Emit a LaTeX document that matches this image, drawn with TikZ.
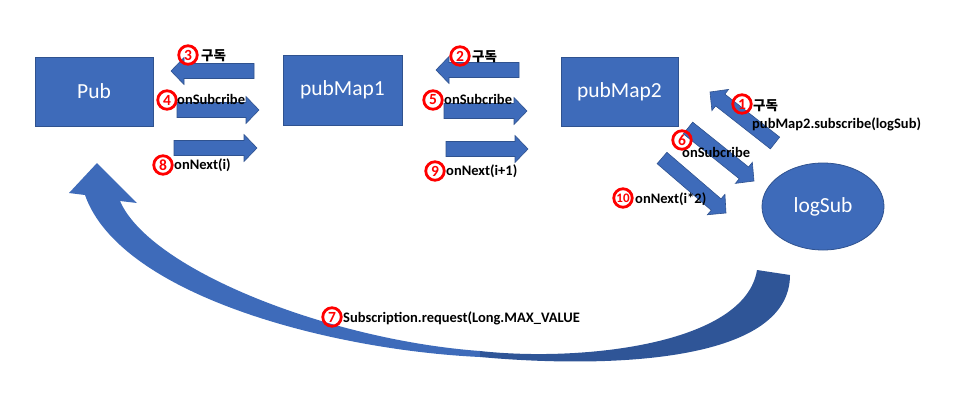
\documentclass[tikz,border=0pt]{standalone}
\usepackage{fontspec}
\setmainfont{Carlito}
\newfontfamily\kor{Noto Sans CJK KR}
\usepackage{xcolor}
\usepackage{tikz}
\usetikzlibrary{calc,positioning,shapes.geometric}

\definecolor{boxfill}{HTML}{3E6BBA}
\definecolor{boxline}{HTML}{2F528F}
\definecolor{backarc}{HTML}{2F5597}
\definecolor{numred}{HTML}{FF0000}

\begin{document}
\begin{tikzpicture}[x=1pt,y=-1pt,
	box/.style={fill=boxfill,draw=boxline,line width=0.8pt,text=white,inner sep=0pt,
		font=\fontsize{21.5}{24}\selectfont},
	num/.style={circle,draw=numred,line width=2.8pt,text=numred,inner sep=0pt,
		minimum size=18.5pt,font=\fontsize{15.5}{16}\selectfont\bfseries},
	lbl/.style={anchor=base west,inner sep=0pt,font=\fontsize{14.5}{16}\selectfont\bfseries},
	barrow/.style={fill=boxfill,draw=boxline,line width=0.6pt,to path={
		($(\tikztostart)!7.5pt!90:(\tikztotarget)$)
		-- ($($(\tikztotarget)!13pt!(\tikztostart)$)!7.5pt!90:(\tikztotarget)$)
		-- ($($(\tikztotarget)!13pt!(\tikztostart)$)!13.5pt!90:(\tikztotarget)$)
		-- (\tikztotarget)
		-- ($($(\tikztotarget)!13pt!(\tikztostart)$)!13.5pt!-90:(\tikztotarget)$)
		-- ($($(\tikztotarget)!13pt!(\tikztostart)$)!7.5pt!-90:(\tikztotarget)$)
		-- ($(\tikztostart)!7.5pt!-90:(\tikztotarget)$) -- cycle}}]
		\useasboundingbox (0,0) rectangle (961,410);
		%
		\node[box,minimum width=118pt,minimum height=69pt] (Pub) at (94,91.5) {Pub};
		\node[box,minimum width=119pt,minimum height=70pt] (pubMap1) at (342.5,90) {pubMap1};
		\node[box,minimum width=117pt,minimum height=69pt] (pubMap2) at (619.5,91.5) {pubMap2};
		\node[box,ellipse,minimum width=122pt,minimum height=87pt] (logSub) at (823,206.5) {logSub};
		%
		% request arc back to Pub
		\fill[boxfill] (85,195) -- (69,193) -- (97,163) -- (137,203) -- (120,201)
			.. controls (150,270) and (330,340) .. (480,351) -- (480,357)
			.. controls (330,350) and (120,295) .. (85,195) -- cycle;
		\fill[backarc] (480,351) .. controls (580,362) and (745,345) .. (757,270)
			-- (790,275) .. controls (790,365) and (600,368) .. (480,357) -- cycle;
		%
		\coordinate (s3) at (254,71);  \coordinate (e3) at (171,71);
		\coordinate (s4) at (177,110); \coordinate (e4) at (259,110);
		\coordinate (s8) at (174,148); \coordinate (e8) at (257,148);
		\coordinate (s2) at (519,70);  \coordinate (e2) at (436,70);
		\coordinate (s5) at (444,111); \coordinate (e5) at (527,111);
		\coordinate (s9) at (446,149); \coordinate (e9) at (528,149);
		\coordinate (s1) at (775,143); \coordinate (e1) at (710,92);
		\coordinate (s6) at (688,128); \coordinate (e6) at (754,181);
		\coordinate (s10) at (662,158); \coordinate (e10) at (726,213);
		%
		\path[barrow]
		% horizontal arrows
		(s3) to (e3)
		(s4) to (e4)
		(s8) to (e8)
		(s2) to (e2)
		(s5) to (e5)
		(s9) to (e9)
		% slanted arrows
		(s1) to (e1)
		(s6) to (e6)
		(s10) to (e10);
		%
		\node[num] (n1) at (742,104) {1};
		\node[num] (n2) at (460,56) {2};
		\node[num] (n3) at (188,55) {3};
		\node[num] (n4) at (167,100) {4};
		\node[num] (n5) at (433,100) {5};
		\node[num] (n6) at (682,140) {6};
		\node[num] (n7) at (332,317) {7};
		\node[num] (n8) at (163,165) {8};
		\node[num] (n9) at (435,171) {9};
		\node[num,font=\fontsize{13}{14}\selectfont\bfseries] (n10) at (623,198) {10};
		%
		\node[lbl,font=\kor\fontsize{13.5}{15}\selectfont\bfseries] (t1) at (753,110) {구독};
		\node[lbl] (call) at (752,128) {pubMap2.subscribe(logSub)};
		\node[lbl,font=\kor\fontsize{13.5}{15}\selectfont\bfseries] (t2) at (472,61) {구독};
		\node[lbl,font=\kor\fontsize{13.5}{15}\selectfont\bfseries] (t3) at (201,60) {구독};
		\node[lbl] (t4) at (177,104) {onSubcribe};
		\node[lbl] (t5) at (444,104) {onSubcribe};
		\node[lbl] (t6) at (682,157) {onSubcribe};
		\node[lbl] (t7) at (343,322) {Subscription.request(Long.MAX\_VALUE};
		\node[lbl] (t8) at (174,169) {onNext(i)};
		\node[lbl] (t9) at (446,175) {onNext(i+1)};
		\node[lbl] (t10) at (635,203) {onNext(i*2)};
	\end{tikzpicture}
\end{document}
